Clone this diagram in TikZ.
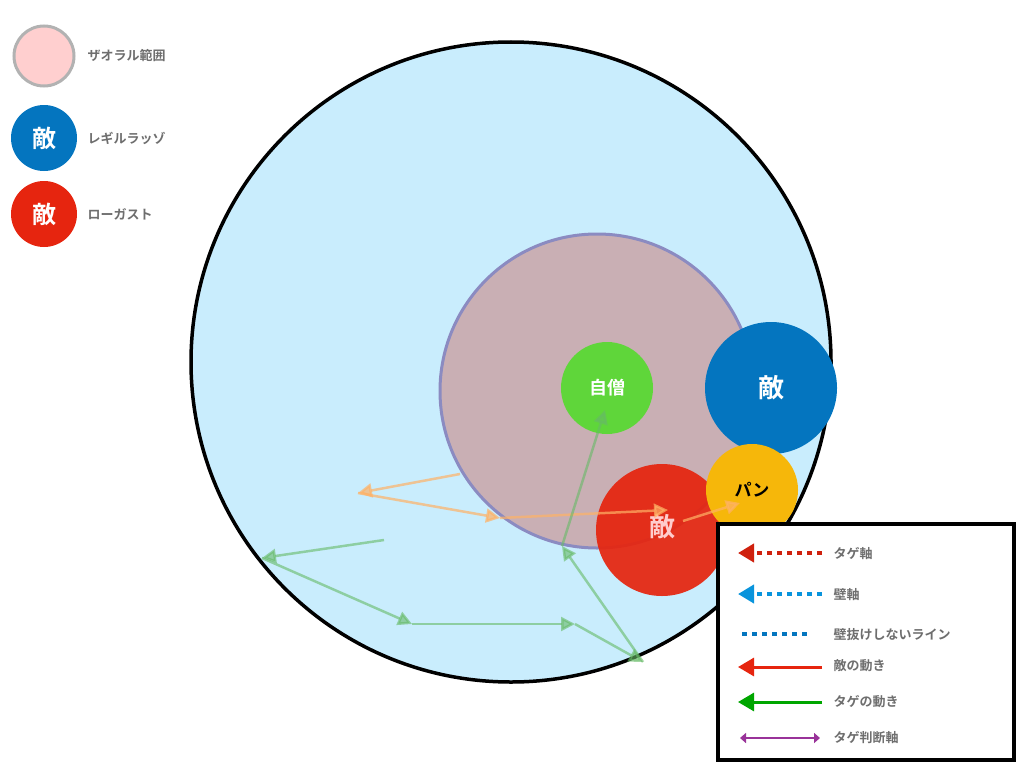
\documentclass[tikz,border=0pt]{standalone}
\usepackage{fontspec}
\newfontfamily\jp{Noto Sans CJK JP}[BoldFont={* Bold}]
\usetikzlibrary{arrows.meta}
\definecolor{sky}{HTML}{C9EDFD}
\definecolor{pinkz}{HTML}{C9AFB4}
\definecolor{txtg}{HTML}{6E6E6E}
\definecolor{ored}{HTML}{E6250F}
\definecolor{oblue}{HTML}{0475BF}
\definecolor{ogreen}{HTML}{5FD63A}
\definecolor{oyel}{HTML}{F6B70A}
\tikzset{
 lab/.style={font=\jp\bfseries\fontsize{13}{13}\selectfont, text=txtg, anchor=west},
 tok/.style={circle, font=\jp\bfseries\fontsize{22}{22}\selectfont, text=white, inner sep=0pt},
 ga/.style={draw=green!55!black!60!white, opacity=0.6, line width=2.5pt, -{Triangle[length=14pt,width=14pt]}},
 oa/.style={draw=orange!60, opacity=0.7, line width=2.5pt, -{Triangle[length=14pt,width=14pt]}},
}
\begin{document}
\begin{tikzpicture}[x=1pt,y=-1pt]
\useasboundingbox (0,0) rectangle (1024,768);
\node[circle, draw=black, line width=3.5pt, fill=sky, minimum size=640pt] (big) at (511,362) {};
\node[circle, draw=gray!70!blue!70, line width=3pt, fill=pinkz, minimum size=314pt] (zone) at (597,391) {};
\node[tok, fill=ogreen, minimum size=92pt, font=\jp\bfseries\fontsize{18}{18}\selectfont] (me) at (607,388) {自僧};
\node[tok, fill=oblue, minimum size=132pt, font=\jp\bfseries\fontsize{26}{26}\selectfont] (e1) at (771,388) {敵};
\node[tok, fill=ored, opacity=0.93, minimum size=132pt] (e2) at (662,530) {};
\node[text=pink!80!white, font=\jp\bfseries\fontsize{26}{26}\selectfont] (e2t) at (662,527) {敵};
\node[tok, fill=oyel, text=black, minimum size=92pt, font=\jp\bfseries\fontsize{17}{17}\selectfont] (pan) at (752,490) {パン};
% orange path
\coordinate (o0) at (460,474); \coordinate (o1) at (358,493); \coordinate (o2) at (500,518);
\coordinate (o3) at (668,510); \coordinate (o4) at (683,521); \coordinate (o5) at (740,503);
\draw[oa] (o0) -- (o1); \draw[oa] (o1) -- (o2); \draw[oa] (o2) -- (o3); \draw[oa] (o4) -- (o5);
% green path
\coordinate (g0) at (384,540); \coordinate (g1) at (262,558); \coordinate (g2) at (412,624);
\coordinate (g3) at (575,624); \coordinate (g4) at (643,662); \coordinate (g5) at (562,546); \coordinate (g6) at (605,410);
\draw[ga] (g0) -- (g1); \draw[ga] (g1) -- (g2); \draw[ga] (g2) -- (g3); \draw[ga] (g3) -- (g4);
\draw[ga] (g4) -- (g5); \draw[ga] (g5) -- (g6);
% top-left legend
\node[circle, draw=gray!60, line width=3pt, fill=pink!70!red!40, minimum size=60pt] (lz) at (44,56) {};
\node[lab] at (84,56) {ザオラル範囲};
\node[tok, fill=oblue, minimum size=66pt, font=\jp\bfseries\fontsize{24}{24}\selectfont] (lblue) at (44,138) {敵};
\node[lab] at (84,138) {レギルラッゾ};
\node[tok, fill=ored, minimum size=66pt, font=\jp\bfseries\fontsize{24}{24}\selectfont] (lred) at (44,214) {敵};
\node[lab] at (84,214) {ローガスト};
% legend box
\node[draw=black, line width=4pt, fill=white, minimum width=296pt, minimum height=236pt, anchor=north west] (box) at (716,522) {};
\foreach \y/\n in {553/a,594/b,634/c,667/d,702/e,738/f}{
 \coordinate (Ll\n) at (738,\y); \coordinate (Lr\n) at (822,\y);
}
\draw[ored!90!black, line width=4pt, dash pattern=on 5pt off 5pt, -{Triangle[length=16pt,width=18pt]}] (Lra) -- (Lla);
\draw[cyan!80!blue, line width=4pt, dash pattern=on 5pt off 5pt, -{Triangle[length=16pt,width=18pt]}] (Lrb) -- (Llb);
\draw[oblue, line width=4pt, dash pattern=on 5pt off 5pt] (742,634) -- (808,634);
\draw[ored, line width=3pt, -{Triangle[length=16pt,width=18pt]}] (Lrd) -- (Lld);
\draw[green!65!black, line width=3pt, -{Triangle[length=16pt,width=18pt]}] (Lre) -- (Lle);
\draw[violet!80, line width=1.5pt, {Triangle[length=6pt,width=10pt]}-{Triangle[length=6pt,width=10pt]}] (740,738) -- (820,738);
\node[lab] at (830,554) {タゲ軸};
\node[lab] at (830,595) {壁軸};
\node[lab] at (830,635) {壁抜けしないライン};
\node[lab] at (830,666) {敵の動き};
\node[lab] at (830,702) {タゲの動き};
\node[lab] at (830,738) {タゲ判断軸};
\end{tikzpicture}
\end{document}
